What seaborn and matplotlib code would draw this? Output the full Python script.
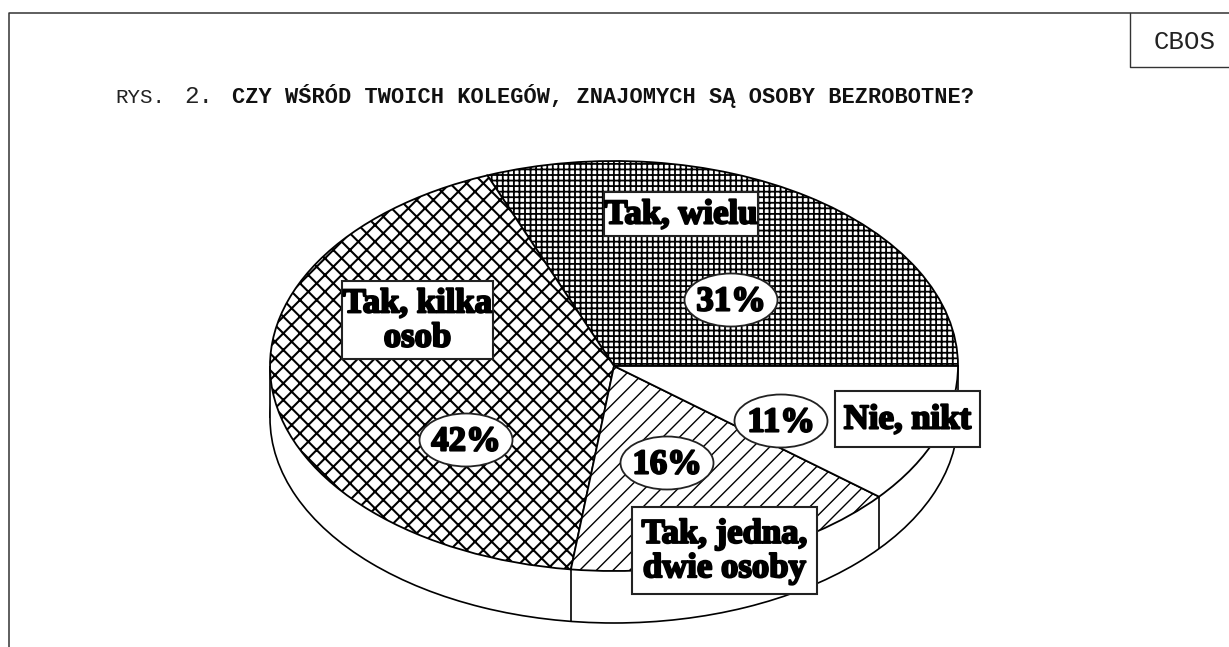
import numpy as np
import matplotlib
matplotlib.use('Agg')
import matplotlib.pyplot as plt
import matplotlib.patheffects as pe
from matplotlib.patches import Ellipse, Rectangle
import seaborn as sns

# data

labels = ['Tak, wielu', 'Tak, kilka\nosob', 'Tak, jedna,\ndwie osoby', 'Nie, nikt']
values = [31, 42, 16, 11]

title_start = 'RYS.'
title_num = '2.'
title_text = 'CZY WŚRÓD TWOICH KOLEGÓW, ZNAJOMYCH SĄ OSOBY BEZROBOTNE?'
source = 'CBOS'

# styling

hatches = ['+++', 'xx', '//', '']
hatch_widths = [1.3, 1.5, 1.0, 0.8]

sns.set_theme(style='white')
plt.rcParams['font.family'] = ['Liberation Serif', 'DejaVu Sans']

W, H = 1229, 647
cx, cy, rx, ry = 614, 366, 344, 205
depth = 52 / ry

fig = plt.figure(figsize=(W / 100, H / 100), dpi=100, facecolor='white')

# pie axes, in units of the pie radius, squashed to get the tilted look

ax = fig.add_axes([0, 0, 1, 1])

# side of the pie first, then the top covers it

ax.pie([sum(values)], center=(0, -depth), radius=1, colors=['white'],
       wedgeprops={'edgecolor': 'black', 'linewidth': 1.2})
ax.add_patch(Rectangle((-1, -depth), 2, depth, facecolor='white', edgecolor='none'))

angles = np.cumsum([0] + values) / sum(values) * 2 * np.pi
for a in angles:
    if np.sin(a) < -1e-6:
        ax.vlines(np.cos(a), np.sin(a) - depth, np.sin(a), color='black', lw=1.2, zorder=1.5)
ax.vlines([-1, 1], -depth, 0, color='black', lw=1.2, zorder=1.5)

wedges, _ = ax.pie(values, radius=1, startangle=0, counterclock=True, colors=['white'] * 4,
                   wedgeprops={'edgecolor': 'black', 'linewidth': 1.3})


# hatch linewidth is only read from rcParams at draw time
def with_hatch_width(draw, width):
    def wrapped(renderer):
        plt.rcParams['hatch.linewidth'] = width
        draw(renderer)
    return wrapped


for w, h, lw in zip(wedges, hatches, hatch_widths):
    w.set_hatch(h)
    w.set_zorder(2)
    if hasattr(w, 'set_hatch_linewidth'):
        w.set_hatch_linewidth(lw)
    w.draw = with_hatch_width(w.draw, lw)

ax.set_aspect('auto')
ax.set_xlim(-cx / rx, (W - cx) / rx)
ax.set_ylim((cy - H) / ry, cy / ry)
ax.axis('off')

# overlay axes in pixels for the frame, labels and boxes

top = fig.add_axes([0, 0, 1, 1], facecolor='none')
top.set_xlim(0, W)
top.set_ylim(H, 0)
top.axis('off')

top.plot([9, 9, W], [H, 13, 13], color='#333333', lw=1.1)
top.plot([1130, 1130, W], [13, 67, 67], color='#333333', lw=1.0)
top.text(1185, 42, source, family='Liberation Mono', fontsize=18.5, ha='center', va='center', color='#222222')

top.text(115, 103, title_start, family='Liberation Mono', fontsize=15, color='#222222', va='baseline')
top.text(184, 103, title_num, family='Liberation Mono', fontsize=17.5, color='#222222', va='baseline')
top.text(232, 103, title_text, family='Liberation Mono', fontsize=15.85, weight='bold', color='#111111', va='baseline')

heavy = [pe.withStroke(linewidth=1.5, foreground='black')]

# label boxes: left, top, right, bottom
boxes = [(604, 192, 758, 236), (342, 281, 493, 359), (632, 507, 817, 594), (835, 391, 980, 447)]
for lab, (x0, y0, x1, y1) in zip(labels, boxes):
    top.add_patch(Rectangle((x0, y0), x1 - x0, y1 - y0, facecolor='white', edgecolor='#222222', lw=1.5))
    top.text((x0 + x1) / 2, (y0 + y1) / 2 + 1, lab, fontsize=25, weight='bold', color='black', ha='center',
             va='center', linespacing=1.05, path_effects=heavy)

# percent ellipses
centers = [(731, 300), (466, 440), (667, 463), (781, 421)]
for v, (x, y) in zip(values, centers):
    top.add_patch(Ellipse((x, y), 93, 53, facecolor='white', edgecolor='#222222', lw=1.3))
    top.text(x, y + 2, f'{v}%', fontsize=25, weight='bold', color='black', ha='center', va='center',
             path_effects=heavy)

fig.savefig('out.png', dpi=100)
